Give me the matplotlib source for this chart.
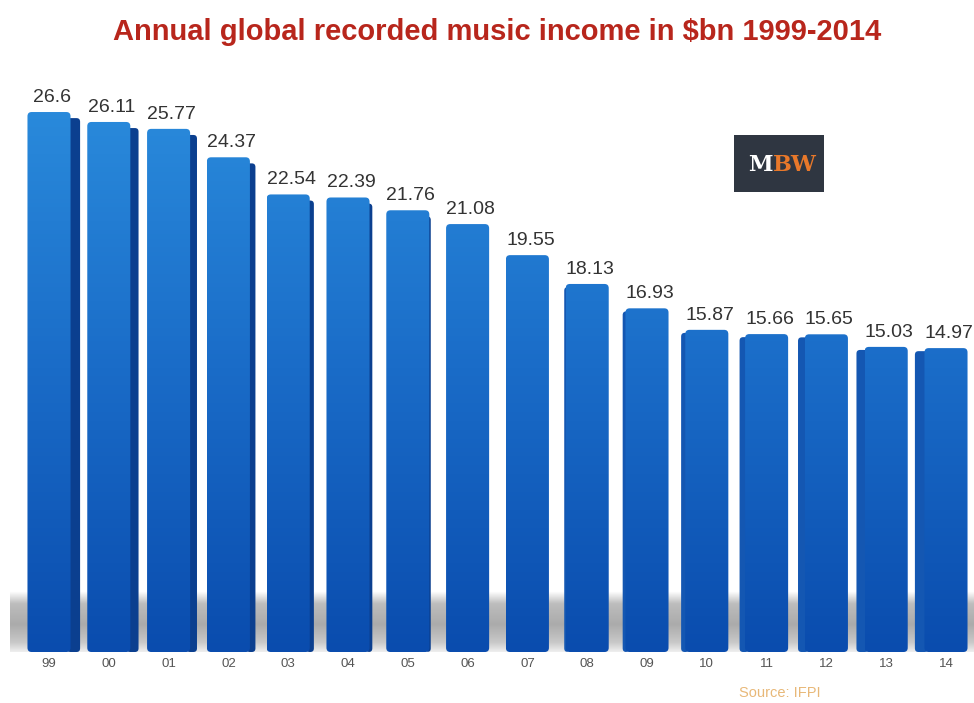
import numpy as np
import matplotlib
matplotlib.use("Agg")
import matplotlib.pyplot as plt
from matplotlib.colors import LinearSegmentedColormap
from matplotlib.patches import FancyBboxPatch

plt.rcParams["font.family"] = ["Liberation Sans", "DejaVu Sans"]

# data
years = ["99", "00", "01", "02", "03", "04", "05", "06",
         "07", "08", "09", "10", "11", "12", "13", "14"]
income = [26.6, 26.11, 25.77, 24.37, 22.54, 22.39, 21.76, 21.08,
          19.55, 18.13, 16.93, 15.87, 15.66, 15.65, 15.03, 14.97]
value_labels = ["26.6", "26.11", "25.77", "24.37", "22.54", "22.39", "21.76", "21.08",
                "19.55", "18.13", "16.93", "15.87", "15.66", "15.65", "15.03", "14.97"]

W, H = 974, 703
fig = plt.figure(figsize=(W / 100, H / 100), dpi=100)
fig.patch.set_facecolor("white")

# axes placed in pixels: bottom at y=652 (value 0), top at y=80
ax_l, ax_r, ax_b, ax_t = 10, 974, 652, 80
ax = fig.add_axes([ax_l / W, 1 - ax_b / H, (ax_r - ax_l) / W, (ax_b - ax_t) / H])
px_per_unit_x = 59.8
px_per_unit_y = 20.3
x0 = 49  # pixel centre of first bar
ax.set_xlim(-(x0 - ax_l) / px_per_unit_x, (ax_r - x0) / px_per_unit_x)
ax.set_ylim(0, (ax_b - ax_t) / px_per_unit_y)
ax.axis("off")

xs = np.arange(len(years))
front_w = 0.72
aspect = px_per_unit_x / px_per_unit_y

# floor shadow band: light at floor, darker a little above, fading to white on top
shade = LinearSegmentedColormap.from_list(
    "shade", [(0, "#eeeeee"), (0.15, "#c9c9c9"), (0.45, "#ababab"), (0.8, "#bdbdbd"), (1, "#ffffff")])
grad = np.linspace(0, 1, 64).reshape(-1, 1)
ax.imshow(grad, cmap=shade, aspect="auto", origin="lower", zorder=0,
          extent=(ax.get_xlim()[0], ax.get_xlim()[1], 0, 3.0))


def rounded(x, w, h, r=0.07):
    return FancyBboxPatch((x, 0), w, h, boxstyle=f"round,pad=0,rounding_size={r}",
                          mutation_aspect=aspect, transform=ax.transData,
                          facecolor="none", edgecolor="none")


# side faces: perspective from the centre, right side on left bars, left side on right bars
mid = (len(years) - 1) / 2
for x, v in zip(xs, income):
    sw = 0.17 * abs(x - mid) / mid
    if sw < 0.02:
        continue
    if x < mid:
        sx, top, col = x + front_w / 2 - 0.06, v - 0.3, "#0b3f8f"
    else:
        sx, top, col = x - front_w / 2 - sw + 0.01, v - 0.15, "#1457b2"
    side = rounded(sx, sw + 0.05, top, r=0.06)
    side.set_facecolor(col)
    side.set_zorder(2)
    ax.add_patch(side)

# front faces with vertical gradient, clipped to rounded bars
blue = LinearSegmentedColormap.from_list("blue", ["#0a4cae", "#1a6cc8", "#2b8ddd"])
bars = ax.bar(xs, income, width=front_w, color="none", edgecolor="none", zorder=3)
g = np.linspace(0, 1, 128).reshape(-1, 1)
for rect in bars:
    shape = rounded(rect.get_x(), rect.get_width(), rect.get_height())
    im = ax.imshow(g, cmap=blue, aspect="auto", origin="lower", zorder=4,
                   extent=(rect.get_x(), rect.get_x() + rect.get_width(), 0, 28))
    im.set_clip_path(shape)

# value labels
for x, v, lab in zip(xs, income, value_labels):
    ax.text(x + 0.05, v + 0.3, lab, ha="center", va="bottom",
            fontsize=14, color="#333333", zorder=5)

# year labels
for x, y in zip(xs, years):
    ax.text(x, -0.3, y, ha="center", va="top", fontsize=9.5,
            color="#555555", clip_on=False)

# title
fig.text(497 / W, 1 - 32 / H, "Annual global recorded music income in \\$bn 1999-2014",
         ha="center", va="center", fontsize=21, fontweight="bold", color="#b8261c")

# MBW logo
logo = fig.add_axes([734 / W, 1 - 192 / H, 90 / W, 57 / H])
logo.set_facecolor("#2f3641")
logo.set_xticks([])
logo.set_yticks([])
for s in logo.spines.values():
    s.set_visible(False)
logo.text(0.43, 0.47, "M", ha="right", va="center", fontsize=16, fontweight="bold",
          color="white", family="DejaVu Serif")
logo.text(0.43, 0.47, "BW", ha="left", va="center", fontsize=16, fontweight="bold",
          color="#e8782a", family="DejaVu Serif")

# source
fig.text(780 / W, 1 - 693 / H, "Source: IFPI", ha="center", va="center",
         fontsize=10.5, color="#e8b878")

fig.savefig("out.png", dpi=100)
